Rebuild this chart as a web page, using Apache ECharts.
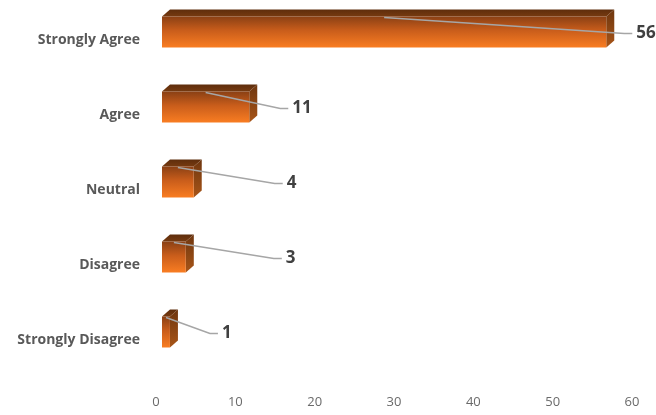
<!DOCTYPE html>
<html>
<head>
<meta charset="utf-8">
<script src="https://cdn.jsdelivr.net/npm/echarts@6/dist/echarts.min.js"></script>
<style>
html,body{margin:0;padding:0;background:#fff;}
#chart{width:656px;height:415px;}
</style>
</head>
<body>
<div id="chart"></div>
<script>
// ---- data ----
const categories = ['Strongly Disagree', 'Disagree', 'Neutral', 'Agree', 'Strongly Agree'];
const values = [1, 3, 4, 11, 56];
const xTicks = [0, 10, 20, 30, 40, 50, 60];

// ---- layout / style constants (not data) ----
const LABEL_GAP = [52, 100, 93, 43, 30]; // leader-label distance from bar end, px
const BAR_H = 31, DEPTH_X = 8, DEPTH_Y = 7, FRONT_SHIFT = 6, CENTER_UP = 8;

const chart = echarts.init(document.getElementById('chart'));

function renderItem(params, api) {
  const v = api.value(0), idx = api.value(1);
  const p0 = api.coord([0, idx]);
  const p1 = api.coord([v, idx]);
  const x0 = p0[0] + FRONT_SHIFT, x1 = p1[0] + FRONT_SHIFT;
  const cy = p0[1] - CENTER_UP;
  const top = cy - BAR_H / 2;
  const labelX = x1 + LABEL_GAP[params.dataIndex];
  return {
    type: 'group',
    children: [
      {
        type: 'polygon',
        shape: { points: [[x0, top], [x0 + DEPTH_X, top - DEPTH_Y], [x1 + DEPTH_X, top - DEPTH_Y], [x1, top]] },
        style: { fill: new echarts.graphic.LinearGradient(0, 0, 0, 1, [
          { offset: 0, color: '#5e2d0c' }, { offset: 1, color: '#763a10' }]) }
      },
      {
        type: 'polygon',
        shape: { points: [[x1, top], [x1 + DEPTH_X, top - DEPTH_Y], [x1 + DEPTH_X, top - DEPTH_Y + BAR_H], [x1, top + BAR_H]] },
        style: { fill: new echarts.graphic.LinearGradient(0, 0, 0, 1, [
          { offset: 0, color: '#6e360f' }, { offset: 1, color: '#a85518' }]) }
      },
      {
        type: 'rect',
        shape: { x: x0, y: top, width: x1 - x0, height: BAR_H },
        style: { fill: new echarts.graphic.LinearGradient(0, 0, 0, 1, [
          { offset: 0, color: '#8a4014' }, { offset: 0.45, color: '#c95d1b' }, { offset: 1, color: '#f97d22' }]) }
      },
      {
        type: 'polyline',
        shape: { points: [[(x0 + x1) / 2, top + 1], [labelX - 12, cy + 1.5], [labelX - 4, cy + 1.5]] },
        style: { stroke: '#a6a6a6', lineWidth: 1.6, fill: null }
      },
      {
        type: 'text',
        style: {
          x: labelX, y: cy + 1.5, text: String(v),
          fill: '#404040', font: 'bold 17px "Open Sans"',
          textAlign: 'left', textVerticalAlign: 'middle'
        }
      }
    ]
  };
}

chart.setOption({
  animation: false,
  grid: { left: 156, right: 24, top: 2.5, bottom: 37.5, containLabel: false },
  xAxis: {
    type: 'value', min: xTicks[0], max: xTicks[xTicks.length - 1], interval: 10,
    axisLine: { show: false }, axisTick: { show: false }, splitLine: { show: false },
    axisLabel: { color: '#6a6a6a', fontSize: 13, fontFamily: 'Open Sans', margin: 18 }
  },
  yAxis: {
    type: 'category', data: categories,
    axisLine: { show: false }, axisTick: { show: false },
    axisLabel: { color: '#595959', fontSize: 14, fontWeight: 'bold', fontFamily: 'Open Sans', margin: 16 }
  },
  series: [{
    type: 'custom',
    renderItem: renderItem,
    encode: { x: 0, y: 1 },
    data: values.map((v, i) => [v, i]),
    clip: false
  }]
});
</script>
</body>
</html>
